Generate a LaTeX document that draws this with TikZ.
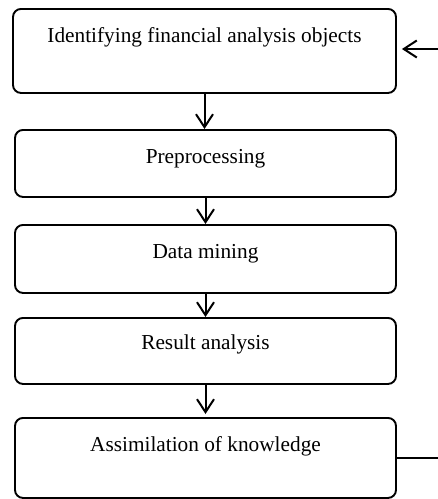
\documentclass[tikz,border=0pt]{standalone}
\usepackage{fontspec}
\setmainfont{Liberation Serif}
\usetikzlibrary{arrows.meta}

\tikzset{
  stagebox/.style={draw, line width=1.9pt, rounded corners=8pt, rectangle,
    inner sep=0pt, anchor=north, align=center,
    font=\fontsize{21.3}{25}\selectfont},
  flow/.style={line width=2pt, -{Straight Barb[length=13pt,width=17pt,line width=2pt]}}
}

\begin{document}
\begin{tikzpicture}[x=1pt, y=-1pt]

\useasboundingbox (0,0) rectangle (438,499);

\node[stagebox, minimum width=383pt, text height=34pt, text depth=50pt] (ident) at (204.5,8) {Identifying financial analysis objects};
\node[stagebox, minimum width=381pt, text height=34pt, text depth=33pt] (prep) at (205.5,129) {Preprocessing};
\node[stagebox, minimum width=381pt, text height=34pt, text depth=34pt] (mine) at (205.5,224) {Data mining};
\node[stagebox, minimum width=381pt, text height=32pt, text depth=34pt] (result) at (205.5,317) {Result analysis};
\node[stagebox, minimum width=381pt, text height=34pt, text depth=46pt] (know) at (205.5,417) {Assimilation of knowledge};

	\coordinate (fbin) at (440,49);
	\coordinate (fbout) at (440,458);

	\draw[flow] (ident.south) -- (ident.south |- prep.north);
	\draw[flow] (prep.south) -- (mine.north);
	\draw[flow] (mine.south) -- (result.north);
	\draw[flow, shorten >=3pt] (result.south) -- (know.north);

	\draw[flow, shorten >=5pt] (fbin) -- (ident.east |- fbin);
	\draw[line width=2pt] (know.east |- fbout) -- (fbout);

\end{tikzpicture}
\end{document}
